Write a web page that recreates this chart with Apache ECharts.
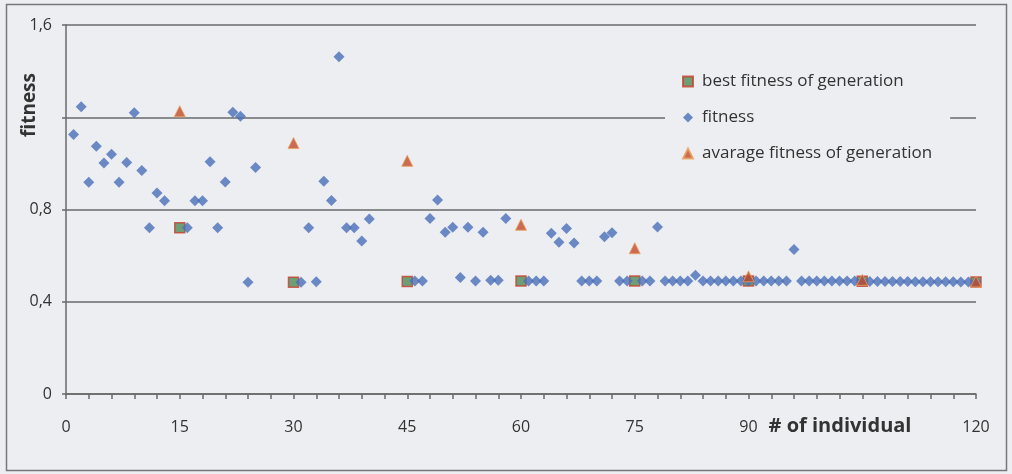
<!DOCTYPE html>
<html>
<head>
<meta charset="utf-8">
<script src="https://cdn.jsdelivr.net/npm/echarts@6/dist/echarts.min.js"></script>
<style>
  html, body { margin: 0; background: #eceef2; }
  #chart { width: 1012px; height: 474px; }
</style>
</head>
<body>
<div id="chart"></div>
<script>
// individuals shown as blue diamonds (values above 1,6 fall off the chart)
var fitnessIdx = [1, 2, 3, 4, 5, 6, 7, 8, 9, 10, 11, 12, 13,
  16, 17, 18, 19, 20, 21, 22, 23, 24, 25,
  31, 32, 33, 34, 35, 36, 37, 38, 39, 40,
  46, 47, 48, 49, 50, 51, 52, 53, 54, 55, 56, 57, 58,
  61, 62, 63, 64, 65, 66, 67, 68, 69, 70, 71, 72, 73, 74,
  76, 77, 78, 79, 80, 81, 82, 83, 84, 85, 86, 87, 88, 89, 90,
  91, 92, 93, 94, 95, 96, 97, 98, 99, 100, 101, 102, 103, 104, 105,
  106, 107, 108, 109, 110, 111, 112, 113, 114, 115, 116, 117, 118, 119, 120];
var fitnessVal = [1.125, 1.245, 0.918, 1.074, 1.002, 1.04, 0.918, 1.004, 1.219, 0.969, 0.721, 0.872, 0.838,
  0.721, 0.838, 0.838, 1.007, 0.721, 0.919, 1.222, 1.204, 0.485, 0.982,
  0.485, 0.721, 0.487, 0.922, 0.839, 1.462, 0.721, 0.721, 0.663, 0.759,
  0.49, 0.49, 0.761, 0.841, 0.701, 0.723, 0.505, 0.723, 0.49, 0.701, 0.493, 0.493, 0.761,
  0.49, 0.49, 0.49, 0.697, 0.658, 0.718, 0.655, 0.49, 0.49, 0.49, 0.682, 0.699, 0.49, 0.49,
  0.49, 0.49, 0.724, 0.49, 0.49, 0.49, 0.49, 0.515, 0.49, 0.49, 0.49, 0.49, 0.49, 0.49, 0.49,
  0.49, 0.49, 0.49, 0.49, 0.49, 0.627, 0.49, 0.49, 0.49, 0.49, 0.49, 0.49, 0.49, 0.49, 0.49,
  0.488, 0.488, 0.488, 0.488, 0.488, 0.488, 0.487, 0.487, 0.487, 0.487, 0.487, 0.487, 0.486, 0.486, 0.486];

// one point per generation (every 15 individuals)
var generationEnd = [15, 30, 45, 60, 75, 90, 105, 120];
var bestFitness = [0.721, 0.485, 0.488, 0.49, 0.49, 0.49, 0.489, 0.486];
var avgFitness = [1.226, 1.088, 1.011, 0.734, 0.632, 0.51, 0.495, 0.488];

var seriesNames = ["best fitness of generation", "fitness", "avarage fitness of generation"];

var chart = echarts.init(document.getElementById("chart"));
var font = '"Open Sans", "DejaVu Sans", sans-serif';
var textColor = "#333333";
var lineColor = "#6a6a6a";

var option = {
  backgroundColor: "#eceef2",
  animation: false,
  textStyle: { fontFamily: font },
  grid: { left: 66, right: 36, top: 25, bottom: 80 },
  legend: {
    orient: "vertical",
    left: 665,
    top: 63,
    itemWidth: 10,
    itemHeight: 10,
    itemGap: 19,
    padding: [10, 18, 10, 17],
    backgroundColor: "#eceef2",
    textStyle: { fontSize: 17, color: textColor, fontFamily: font, padding: [0, 0, 0, 4] },
    data: [
      { name: seriesNames[0], icon: "rect" },
      { name: seriesNames[1], icon: "diamond" },
      { name: seriesNames[2], icon: "triangle" }
    ]
  },
  xAxis: {
    type: "value",
    min: 0,
    max: 120,
    interval: 15,
    splitLine: { show: false },
    axisLine: { lineStyle: { color: lineColor, width: 1.5 } },
    axisTick: { length: 5, lineStyle: { color: lineColor, width: 1.5 } },
    minorTick: { show: true, splitNumber: 5, length: 5, lineStyle: { color: lineColor, width: 1.5 } },
    axisLabel: {
      margin: 25,
      fontSize: 16,
      color: textColor,
      formatter: function (v) { return v === 105 ? "" : String(v); }
    }
  },
  yAxis: {
    type: "value",
    min: 0,
    max: 1.6,
    interval: 0.4,
    axisLine: { show: true, lineStyle: { color: lineColor, width: 1.5 } },
    axisTick: { show: true, length: 4, lineStyle: { color: lineColor, width: 1.5 } },
    splitLine: { lineStyle: { color: lineColor, width: 1.5 } },
    axisLabel: {
      margin: 14,
      fontSize: 16,
      color: textColor,
      formatter: function (v) {
        if (Math.abs(v - 1.2) < 1e-6) return "";
        return String(Math.round(v * 10) / 10).replace(".", ",");
      }
    }
  },
  series: [
    {
      name: seriesNames[0],
      type: "scatter",
      symbol: "rect",
      symbolSize: 10,
      itemStyle: { color: "#4f8a55", borderColor: "#c8402e", borderWidth: 1.5 },
      data: generationEnd.map(function (x, i) { return [x, bestFitness[i]]; })
    },
    {
      name: seriesNames[1],
      type: "scatter",
      symbol: "diamond",
      symbolSize: 11,
      itemStyle: { color: "#4a6fb8" },
      data: fitnessIdx.map(function (x, i) { return [x, fitnessVal[i]]; })
    },
    {
      name: seriesNames[2],
      type: "scatter",
      symbol: "triangle",
      symbolSize: 11,
      itemStyle: { color: "#c24a2c", borderColor: "#eda05a", borderWidth: 1 },
      data: generationEnd.map(function (x, i) { return [x, avgFitness[i]]; })
    }
  ],
  graphic: [
    {
      type: "rect",
      shape: { x: 6.5, y: 4.5, width: 1000, height: 466 },
      style: { fill: null, stroke: "#777", lineWidth: 1.5 },
      silent: true
    },
    {
      type: "text",
      x: 30,
      y: 105,
      rotation: Math.PI / 2,
      style: { text: "fitness", font: "bold 19px " + font, fill: textColor, align: "center", verticalAlign: "middle" }
    },
    {
      type: "text",
      x: 840,
      y: 426,
      style: { text: "# of individual", font: "bold 20px " + font, fill: textColor, align: "center", verticalAlign: "middle" }
    }
  ]
};
chart.setOption(option);
</script>
</body>
</html>
